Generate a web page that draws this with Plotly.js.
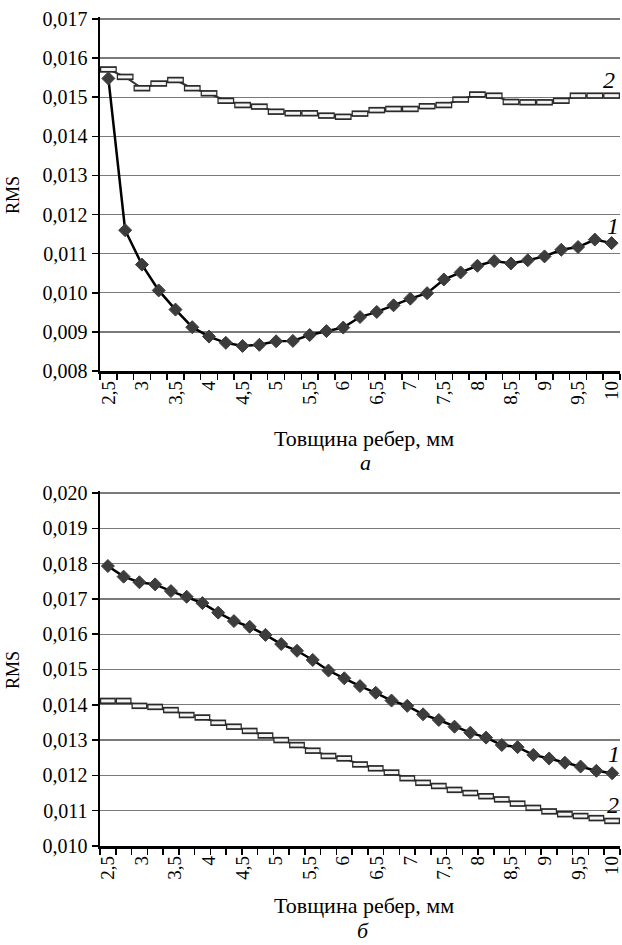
<!DOCTYPE html>
<html><head><meta charset="utf-8">
<script src="https://cdn.plot.ly/plotly-3.0.1.min.js"></script>
<style>html,body{margin:0;padding:0;background:#fff}#chart{width:622px;height:945px}</style>
</head><body><div id="chart"></div>
<script>
// ---- data (a) ----
const thicknessA = [2.5,2.75,3,3.25,3.5,3.75,4,4.25,4.5,4.75,5,5.25,5.5,5.75,6,6.25,6.5,6.75,7,7.25,7.5,7.75,8,8.25,8.5,8.75,9,9.25,9.5,9.75,10];
const rmsA1 = [0.01548,0.01160,0.01072,0.01006,0.00957,0.00912,0.00888,0.00872,0.00864,0.00867,0.00876,0.00877,0.00892,0.00902,0.00911,0.00938,0.00951,0.00968,0.00985,0.00999,0.01034,0.01052,0.01069,0.01081,0.01075,0.01083,0.01093,0.01110,0.01117,0.01136,0.01127];
const rmsA2 = [0.01571,0.01552,0.01523,0.01535,0.01544,0.01523,0.01510,0.01491,0.01480,0.01476,0.01463,0.01459,0.01459,0.01453,0.01450,0.01458,0.01467,0.01470,0.01470,0.01477,0.01480,0.01494,0.01507,0.01504,0.01488,0.01487,0.01487,0.01491,0.01504,0.01504,0.01504];
// ---- data (б) ----
const thicknessB = [2.5,2.734,2.969,3.203,3.438,3.672,3.906,4.141,4.375,4.609,4.844,5.078,5.313,5.547,5.781,6.016,6.25,6.484,6.719,6.953,7.188,7.422,7.656,7.891,8.125,8.359,8.594,8.828,9.063,9.297,9.531,9.766,10];
const rmsB1 = [0.01793,0.01763,0.01747,0.01741,0.01722,0.01706,0.01688,0.01661,0.01637,0.01621,0.01598,0.01572,0.01553,0.01527,0.01497,0.01475,0.01453,0.01434,0.01412,0.01397,0.01373,0.01357,0.01338,0.01321,0.01307,0.01286,0.01280,0.01258,0.01248,0.01236,0.01225,0.01213,0.01206];
const rmsB2 = [0.01411,0.01411,0.01397,0.01394,0.01385,0.01371,0.01364,0.01349,0.01338,0.01326,0.01313,0.01300,0.01286,0.01270,0.01255,0.01248,0.01231,0.01220,0.01208,0.01192,0.01179,0.01170,0.01159,0.01150,0.01141,0.01132,0.01120,0.01108,0.01098,0.01090,0.01085,0.01079,0.01071];
// ---- tick labels ----
const xTickVals = [2.5,3,3.5,4,4.5,5,5.5,6,6.5,7,7.5,8,8.5,9,9.5,10];
const xTickText = ['2,5','3','3,5','4','4,5','5','5,5','6','6,5','7','7,5','8','8,5','9','9,5','10'];
const yTickValsA = [0.008,0.009,0.010,0.011,0.012,0.013,0.014,0.015,0.016,0.017];
const yTickTextA = ['0,008','0,009','0,010','0,011','0,012','0,013','0,014','0,015','0,016','0,017'];
const yTickValsB = [0.010,0.011,0.012,0.013,0.014,0.015,0.016,0.017,0.018,0.019,0.020];
const yTickTextB = ['0,010','0,011','0,012','0,013','0,014','0,015','0,016','0,017','0,018','0,019','0,020'];
const xTitle = 'Товщина ребер, мм';
const yTitle = 'RMS';
const panelLabels = ['а','б'];
const seriesLabels = ['1','2'];

const W = 622, H = 945;
const px = v => v / W, py = v => 1 - v / H;
const FONT = '"Liberation Serif", "Times New Roman", serif';

function diamondTrace(x, y, xa, ya) {
  return {x, y, xaxis: xa, yaxis: ya, type: 'scatter', mode: 'lines+markers',
    line: {color: '#000', width: 2.5},
    marker: {symbol: 'diamond', size: 10, color: '#3c3c3c', line: {color: '#3c3c3c', width: 1}},
    showlegend: false, hoverinfo: 'skip', cliponaxis: false};
}
function rectTraces(x, y, xa, ya, size) {
  return [
    {x, y, xaxis: xa, yaxis: ya, type: 'scatter', mode: 'lines+markers',
      line: {color: '#333', width: 2},
      marker: {symbol: 'line-ew', size: size, line: {color: '#2a2a2a', width: 6.5}},
      showlegend: false, hoverinfo: 'skip', cliponaxis: false},
    {x, y, xaxis: xa, yaxis: ya, type: 'scatter', mode: 'markers',
      marker: {symbol: 'line-ew', size: size - 1.8, line: {color: '#f4f4f4', width: 3}},
      showlegend: false, hoverinfo: 'skip', cliponaxis: false}
  ];
}

const data = [
  ...rectTraces(thicknessA, rmsA2, 'x', 'y', 12),
  diamondTrace(thicknessA, rmsA1, 'x', 'y'),
  ...rectTraces(thicknessB, rmsB2, 'x2', 'y2', 11.3),
  diamondTrace(thicknessB, rmsB1, 'x2', 'y2')
];

function xAxis(anchor, range, tick0, dtick) {
  return {anchor, domain: [px(100), px(620)], range, type: 'linear',
    tickmode: 'array', tickvals: xTickVals, ticktext: xTickText, tickangle: -90,
    ticks: '', showgrid: false, zeroline: false, ticklabeloverflow: 'allow',
    showline: true, linecolor: '#000', linewidth: 2.5,
    tickfont: {family: FONT, size: 19, color: '#000'},
    minor: {tickmode: 'linear', tick0, dtick, ticks: 'outside', ticklen: 6, tickwidth: 1.5, tickcolor: '#000', showgrid: false},
    automargin: false, fixedrange: true};
}
function yAxis(anchor, domain, range, vals, text) {
  return {anchor, domain, range, tickmode: 'array', tickvals: vals, ticktext: text,
    ticks: 'outside', ticklen: 6, tickwidth: 1.5, tickcolor: '#000',
    showgrid: true, gridcolor: '#7a7a7a', gridwidth: 1.3, zeroline: false,
    showline: true, linecolor: '#000', linewidth: 2.5, ticklabeloverflow: 'allow',
    tickfont: {family: FONT, size: 20, color: '#000'}, automargin: false, fixedrange: true};
}

const ann = (text, x, y, opts = {}) => Object.assign({text, x: px(x), y: py(y), xref: 'paper', yref: 'paper',
  showarrow: false, xanchor: 'center', yanchor: 'middle', font: {family: FONT, size: 22, color: '#000'}}, opts);

const layout = {
  width: W, height: H, margin: {l: 0, r: 0, t: 0, b: 0},
  paper_bgcolor: '#fff', plot_bgcolor: '#fff', showlegend: false,
  font: {family: FONT, color: '#000'},
  xaxis: xAxis('y', [2.375, 10.125], 2.375, 0.25),
  yaxis: yAxis('x', [py(371), py(17.05)], [0.008, 0.01705], yTickValsA, yTickTextA),
  xaxis2: xAxis('y2', [2.3828, 10.1172], 2.3828, 0.234375),
  yaxis2: yAxis('x2', [py(846), py(491.2)], [0.010, 0.02005], yTickValsB, yTickTextB),
  annotations: [
    ann(xTitle, 364, 438),
    ann('<i>' + panelLabels[0] + '</i>', 365, 462),
    ann(yTitle, 13, 195, {textangle: -90, font: {family: FONT, size: 18, color: '#000'}}),
    ann('<i>' + seriesLabels[1] + '</i>', 609, 80, {font: {family: FONT, size: 24, color: '#000'}}),
    ann('<i>' + seriesLabels[0] + '</i>', 613, 226, {font: {family: FONT, size: 24, color: '#000'}}),
    ann(xTitle, 364, 905),
    ann('<i>' + panelLabels[1] + '</i>', 363, 930),
    ann(yTitle, 13, 670, {textangle: -90, font: {family: FONT, size: 18, color: '#000'}}),
    ann('<i>' + seriesLabels[0] + '</i>', 614, 754, {font: {family: FONT, size: 24, color: '#000'}}),
    ann('<i>' + seriesLabels[1] + '</i>', 613, 805, {font: {family: FONT, size: 24, color: '#000'}})
  ]
};

Plotly.newPlot('chart', data, layout, {displayModeBar: false, staticPlot: true});
</script></body></html>
